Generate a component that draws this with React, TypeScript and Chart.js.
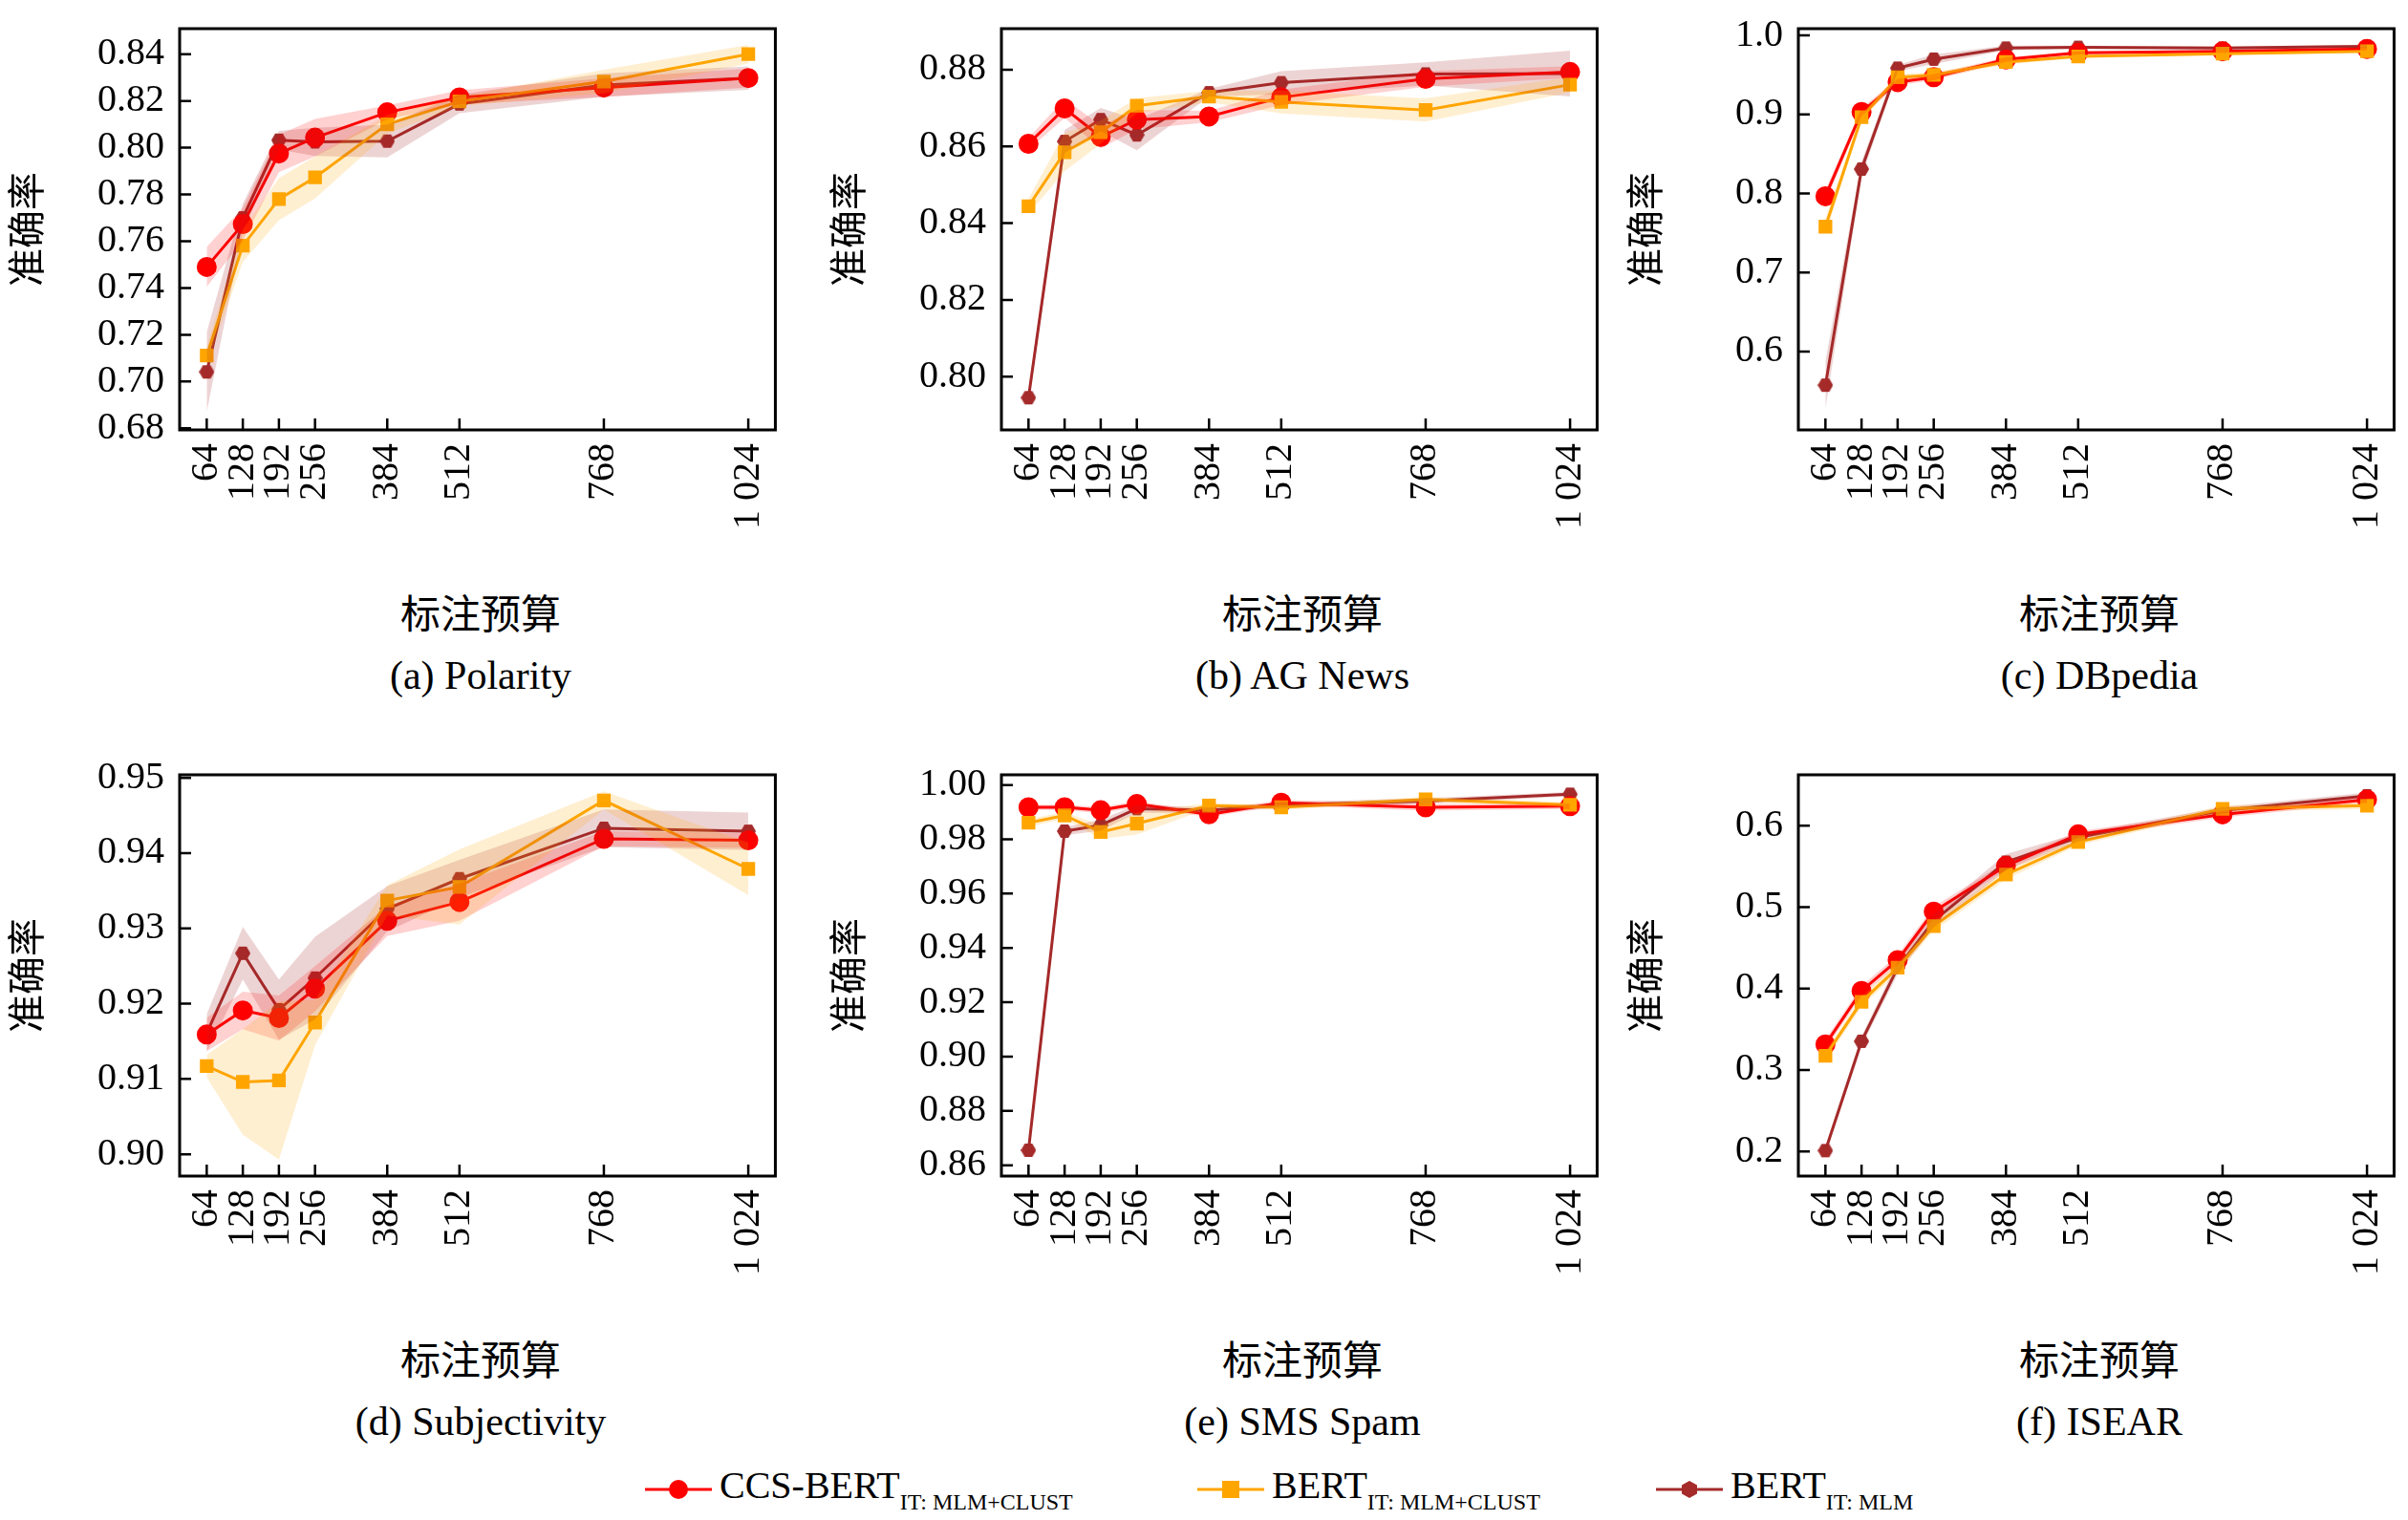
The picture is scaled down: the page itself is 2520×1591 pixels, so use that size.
import React, { useEffect, useRef } from "react";
import { Chart, registerables } from "chart.js";
Chart.register(...registerables);

const budgets = [64, 128, 192, 256, 384, 512, 768, 1024];
const budgetLabels = ["64", "128", "192", "256", "384", "512", "768", "1 024"];

const seriesNames = ["CCS-BERT", "BERT", "BERT"];
const seriesSubs = ["IT: MLM+CLUST", "IT: MLM+CLUST", "IT: MLM"];
const colors = ["#ff0000", "#ffa500", "#a52a2a"];
const bandColors = ["rgba(255,0,0,0.18)", "rgba(255,165,0,0.18)", "rgba(165,42,42,0.2)"];

// Polarity
const polRed = [0.749, 0.7673, 0.7975, 0.8043, 0.8151, 0.8215, 0.8257, 0.8298];
const polOrange = [0.7111, 0.7581, 0.778, 0.7873, 0.81, 0.8198, 0.8283, 0.84];
const polBrown = [0.7041, 0.77, 0.8032, 0.8025, 0.8028, 0.8187, 0.8268, 0.8298];
const polRedStd = [0.0085, 0.007, 0.008, 0.008, 0.003, 0.003, 0.004, 0.004];
const polOrangeStd = [0.004, 0.007, 0.009, 0.009, 0.004, 0.002, 0.005, 0.004];
const polBrownStd = [0.017, 0.006, 0.004, 0.006, 0.007, 0.004, 0.005, 0.005];
const polTicks = [0.68, 0.7, 0.72, 0.74, 0.76, 0.78, 0.8, 0.82, 0.84];

// AG News
const agRed = [0.8607, 0.8699, 0.8625, 0.867, 0.8678, 0.8728, 0.8776, 0.8794];
const agOrange = [0.8444, 0.8585, 0.8637, 0.8706, 0.873, 0.8716, 0.8695, 0.8761];
const agBrown = [0.7945, 0.8613, 0.867, 0.863, 0.874, 0.8766, 0.8789, 0.879];
const agRedStd = [0.0015, 0.0025, 0.003, 0.0025, 0.0015, 0.002, 0.002, 0.0015];
const agOrangeStd = [0.002, 0.005, 0.003, 0.002, 0.0015, 0.003, 0.003, 0.002];
const agBrownStd = [0.002, 0.003, 0.003, 0.004, 0.001, 0.003, 0.003, 0.006];
const agTicks = [0.8, 0.82, 0.84, 0.86, 0.88];

// DBpedia
const dbRed = [0.7965, 0.9031, 0.941, 0.9473, 0.9695, 0.978, 0.98, 0.983];
const dbOrange = [0.758, 0.8965, 0.947, 0.95, 0.9664, 0.9734, 0.977, 0.98];
const dbBrown = [0.5574, 0.8309, 0.9586, 0.97, 0.984, 0.985, 0.984, 0.9863];
const dbRedStd = [0.008, 0.005, 0.004, 0.004, 0.003, 0.002, 0.002, 0.002];
const dbOrangeStd = [0.01, 0.005, 0.004, 0.004, 0.003, 0.002, 0.002, 0.002];
const dbBrownStd = [0.03, 0.01, 0.004, 0.006, 0.003, 0.002, 0.002, 0.002];
const dbTicks = [0.6, 0.7, 0.8, 0.9, 1.0];

// Subjectivity
const subRed = [0.9159, 0.9191, 0.9181, 0.922, 0.931, 0.9335, 0.9419, 0.9417];
const subOrange = [0.9117, 0.9096, 0.9098, 0.9175, 0.9337, 0.9355, 0.947, 0.9379];
const subBrown = [0.9161, 0.9267, 0.9192, 0.9234, 0.9326, 0.9366, 0.9433, 0.9429];
const subRedStd = [0.0022, 0.0025, 0.003, 0.003, 0.002, 0.0025, 0.001, 0.001];
const subOrangeStd = [0.0015, 0.007, 0.0105, 0.003, 0.002, 0.005, 0.0012, 0.0035];
const subBrownStd = [0.0025, 0.0035, 0.004, 0.0055, 0.003, 0.0025, 0.0025, 0.0025];
const subTicks = [0.9, 0.91, 0.92, 0.93, 0.94, 0.95];

// SMS Spam
const smsRed = [0.9918, 0.9918, 0.9907, 0.993, 0.9892, 0.9935, 0.9918, 0.9922];
const smsOrange = [0.9861, 0.9888, 0.9827, 0.9858, 0.9924, 0.9918, 0.9947, 0.9927];
const smsBrown = [0.8655, 0.983, 0.9852, 0.9913, 0.9907, 0.9926, 0.9941, 0.9966];
const smsRedStd = [0.001, 0.001, 0.0012, 0.001, 0.001, 0.001, 0.0012, 0.001];
const smsOrangeStd = [0.0015, 0.0012, 0.0025, 0.004, 0.001, 0.001, 0.001, 0.001];
const smsBrownStd = [0.001, 0.0015, 0.002, 0.0015, 0.001, 0.001, 0.001, 0.0008];
const smsTicks = [0.86, 0.88, 0.9, 0.92, 0.94, 0.96, 0.98, 1.0];

// ISEAR
const isRed = [0.3315, 0.3971, 0.435, 0.4946, 0.5507, 0.5894, 0.614, 0.6322];
const isOrange = [0.3175, 0.3838, 0.4256, 0.4768, 0.54, 0.58, 0.6209, 0.6247];
const isBrown = [0.201, 0.3353, 0.4256, 0.4833, 0.5553, 0.5857, 0.619, 0.6368];
const isRedStd = [0.006, 0.006, 0.006, 0.006, 0.005, 0.004, 0.004, 0.004];
const isOrangeStd = [0.006, 0.006, 0.006, 0.006, 0.006, 0.004, 0.004, 0.004];
const isBrownStd = [0.005, 0.006, 0.008, 0.008, 0.01, 0.005, 0.004, 0.004];
const isTicks = [0.2, 0.3, 0.4, 0.5, 0.6];

const panels = [
  { caption: "(a) Polarity", means: [polRed, polOrange, polBrown], stds: [polRedStd, polOrangeStd, polBrownStd], ticks: polTicks, min: 0.6793, max: 0.8509, dec: 2 },
  { caption: "(b) AG News", means: [agRed, agOrange, agBrown], stds: [agRedStd, agOrangeStd, agBrownStd], ticks: agTicks, min: 0.7861, max: 0.8907, dec: 2 },
  { caption: "(c) DBpedia", means: [dbRed, dbOrange, dbBrown], stds: [dbRedStd, dbOrangeStd, dbBrownStd], ticks: dbTicks, min: 0.5008, max: 1.0086, dec: 1 },
  { caption: "(d) Subjectivity", means: [subRed, subOrange, subBrown], stds: [subRedStd, subOrangeStd, subBrownStd], ticks: subTicks, min: 0.8971, max: 0.9504, dec: 2 },
  { caption: "(e) SMS Spam", means: [smsRed, smsOrange, smsBrown], stds: [smsRedStd, smsOrangeStd, smsBrownStd], ticks: smsTicks, min: 0.856, max: 1.00375, dec: 2 },
  { caption: "(f) ISEAR", means: [isRed, isOrange, isBrown], stds: [isRedStd, isOrangeStd, isBrownStd], ticks: isTicks, min: 0.1697, max: 0.6626, dec: 1 },
];

const colLefts = [188, 1048, 1882];
const rowTops = [18, 799];
const BOX_W = 630;
const BOX_H = 432;
const YAX = 185;
const PAD_T = 20;
const PAD_R = 20;
const XAX = 140;
const SERIF = "'Liberation Serif', 'DejaVu Serif', serif";
const CJK = "'Noto Sans CJK SC', sans-serif";

function makeHex(size: number, color: string) {
  const c = document.createElement("canvas");
  c.width = size;
  c.height = size;
  const ctx = c.getContext("2d")!;
  ctx.fillStyle = color;
  ctx.beginPath();
  const r = size / 2;
  for (let i = 0; i < 6; i++) {
    const a = Math.PI / 6 + (i * Math.PI) / 3 - Math.PI / 2;
    const px = r + r * Math.cos(a);
    const py = r + r * Math.sin(a);
    if (i === 0) ctx.moveTo(px, py);
    else ctx.lineTo(px, py);
  }
  ctx.closePath();
  ctx.fill();
  return c;
}

const framePlugin = {
  id: "frame",
  afterDraw(chart: any) {
    const { ctx, chartArea } = chart;
    const xs = chart.scales.x;
    const ys = chart.scales.y;
    ctx.save();
    ctx.strokeStyle = "#000";
    ctx.lineWidth = 3;
    ctx.strokeRect(chartArea.left, chartArea.top, chartArea.right - chartArea.left, chartArea.bottom - chartArea.top);
    ctx.lineWidth = 2.5;
    ctx.beginPath();
    xs.ticks.forEach((t: any) => {
      const px = xs.getPixelForValue(t.value);
      ctx.moveTo(px, chartArea.bottom);
      ctx.lineTo(px, chartArea.bottom - 12);
    });
    ys.ticks.forEach((t: any) => {
      const py = ys.getPixelForValue(t.value);
      ctx.moveTo(chartArea.left, py);
      ctx.lineTo(chartArea.left + 12, py);
    });
    ctx.stroke();
    ctx.restore();
  },
};

function Panel({ p, left, top }: any) {
  const ref = useRef<HTMLCanvasElement>(null);
  useEffect(() => {
    const hex = makeHex(16, colors[2]);
    const styles: any[] = ["circle", "rect", hex];
    const radii = [9, 8, 8];
    const datasets: any[] = [];
    [1, 0, 2].forEach((si) => {
      const m = p.means[si];
      const s = p.stds[si];
      datasets.push({
        data: budgets.map((b, i) => ({ x: b, y: m[i] - s[i] })),
        borderWidth: 0, pointRadius: 0, fill: false, borderColor: "transparent",
      });
      datasets.push({
        data: budgets.map((b, i) => ({ x: b, y: m[i] + s[i] })),
        borderWidth: 0, pointRadius: 0, fill: "-1", borderColor: "transparent", backgroundColor: bandColors[si],
      });
    });
    [1, 0, 2].forEach((si) => {
      datasets.push({
        data: budgets.map((b, i) => ({ x: b, y: p.means[si][i] })),
        borderColor: colors[si], backgroundColor: colors[si], borderWidth: 3,
        pointStyle: styles[si], pointRadius: radii[si], fill: false,
      });
    });
    const chart = new Chart(ref.current!, {
      type: "line",
      data: { datasets },
      plugins: [framePlugin],
      options: {
        animation: false, responsive: false, devicePixelRatio: 1,
        layout: { padding: { top: PAD_T, right: PAD_R, left: 0, bottom: 0 } },
        plugins: { legend: { display: false }, tooltip: { enabled: false } },
        scales: {
          x: {
            type: "linear", min: 16, max: 1072,
            grid: { display: false }, border: { display: false },
            afterBuildTicks: (s: any) => { s.ticks = budgets.map((v) => ({ value: v })); },
            afterFit: (s: any) => { s.height = XAX; },
            ticks: {
              minRotation: 90, maxRotation: 90, autoSkip: false, padding: 6,
              color: "#000", font: { family: SERIF, size: 40 },
              callback: (v: any) => budgetLabels[budgets.indexOf(v)] ?? "",
            },
          },
          y: {
            type: "linear", min: p.min, max: p.max,
            grid: { display: false }, border: { display: false },
            afterBuildTicks: (s: any) => { s.ticks = p.ticks.map((v: number) => ({ value: v })); },
            afterFit: (s: any) => { s.width = YAX; },
            title: { display: true, text: "准确率", color: "#000", font: { family: CJK, size: 40 }, padding: 0 },
            ticks: {
              color: "#000", padding: 8, font: { family: SERIF, size: 40 },
              callback: (v: any) => Number(v).toFixed(p.dec),
            },
          },
        },
      },
    } as any);
    return () => chart.destroy();
  }, []);
  const w = YAX + BOX_W + PAD_R;
  const h = PAD_T + BOX_H + XAX;
  return (
    <>
      <canvas ref={ref} width={w} height={h}
        style={{ position: "absolute", left: left - YAX, top: top - PAD_T, width: w, height: h }} />
      <div style={{ position: "absolute", left, width: BOX_W, top: top + BOX_H + 165, textAlign: "center", fontFamily: CJK, fontSize: 42, lineHeight: "50px" }}>标注预算</div>
      <div style={{ position: "absolute", left, width: BOX_W, top: top + BOX_H + 232, textAlign: "center", fontFamily: SERIF, fontSize: 42, lineHeight: "50px" }}>{p.caption}</div>
    </>
  );
}

function LegendMarker({ i }: { i: number }) {
  const c = colors[i];
  return (
    <svg width={70} height={30} style={{ verticalAlign: "middle", marginRight: 8 }}>
      <line x1={0} y1={15} x2={70} y2={15} stroke={c} strokeWidth={3} />
      {i === 0 && <circle cx={35} cy={15} r={10} fill={c} />}
      {i === 1 && <rect x={26} y={6} width={18} height={18} fill={c} />}
      {i === 2 && <polygon points="35,6 43,10.5 43,19.5 35,24 27,19.5 27,10.5" fill={c} />}
    </svg>
  );
}

export default function App() {
  const legendLefts = [675, 1253, 1733];
  return (
    <div style={{ position: "absolute", left: 0, top: 0, width: 2520, height: 1591, background: "#fff", overflow: "hidden" }}>
      {panels.map((p, k) => (
        <Panel key={k} p={p} left={colLefts[k % 3]} top={rowTops[Math.floor(k / 3)]} />
      ))}
      {[0, 1, 2].map((i) => (
        <div key={i} style={{ position: "absolute", left: legendLefts[i], top: 1530, fontFamily: SERIF, fontSize: 40, whiteSpace: "nowrap", lineHeight: "50px" }}>
          <LegendMarker i={i} />
          {seriesNames[i]}
          <span style={{ fontSize: 24, position: "relative", top: 12 }}>{seriesSubs[i]}</span>
        </div>
      ))}
    </div>
  );
}
